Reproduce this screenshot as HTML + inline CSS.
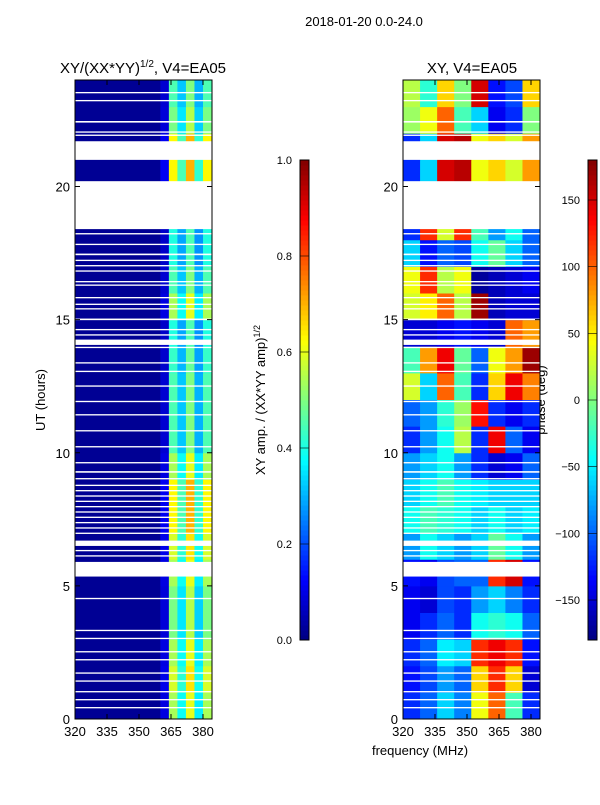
<!DOCTYPE html>
<html><head><meta charset="utf-8"><style>
body{margin:0;background:#fff;font-family:"Liberation Sans",sans-serif}
svg text{font-family:"Liberation Sans",sans-serif;fill:#000}
</style></head><body>
<svg id="s" width="600" height="800" xmlns="http://www.w3.org/2000/svg">
<text x="364" y="26" font-size="13" text-anchor="middle">2018-01-20 0.0-24.0</text>
<text x="143" y="73" font-size="15" text-anchor="middle">XY/(XX*YY)<tspan font-size="10" dy="-6">1/2</tspan><tspan dy="6">, V4=EA05</tspan></text>
<text x="472" y="73" font-size="15" text-anchor="middle">XY, V4=EA05</text>
<text x="45" y="400" font-size="13" text-anchor="middle" transform="rotate(-90 45 400)">UT (hours)</text>
<text x="420" y="755" font-size="13" text-anchor="middle">frequency (MHz)</text>
<text x="265" y="400" font-size="13" text-anchor="middle" transform="rotate(-90 265 400)">XY amp. / (XX*YY amp)<tspan font-size="9" dy="-5">1/2</tspan></text>
<text x="545" y="400" font-size="13" text-anchor="middle" transform="rotate(-90 545 400)">phase (deg)</text>
<g id="g"></g>
</svg>
<script>
const hours=[0,1,2,3,4,5,6,7,8,9,10,11,12,13,14,15,16,17,18,19,20,21,22,23];
const ampFreqBins=[320,324,328,332,336,340,344,348,352,356,360,364,368,372,376,380];
const ampProfile=[0.02,0.02,0.02,0.02,0.02,0.02,0.02,0.02,0.02,0.02,0.08,0.45,0.32,0.5,0.3,0.45];
const ampRowScale=[1.2,1.3,1.2,1.1,1.1,1.2,1.3,1.4,1.4,1.2,1.0,1.0,1.0,0.95,0.9,1.2,1.0,0.9,0.9,1,1.4,1.4,1.1,1.0];
const phaseFreqBins=[320,328,336,344,352,360,368,376];
const phase=[
[-120,-100,-60,-90,40,100,-20,-120],
[-130,-110,-80,-100,60,120,60,-150],
[-120,-100,-50,-60,120,140,120,-130],
[-140,-120,-100,-120,-40,-30,-40,-100],
[-140,-150,-110,-120,-80,-60,-90,-120],
[-130,-140,-110,-100,-100,120,150,-130],
[-80,-40,-60,-80,-60,-10,-40,-80],
[-40,-20,-30,-40,-60,-40,-60,-50],
[-60,-40,-20,-40,-50,-60,-60,-60],
[-80,-60,-40,-80,-120,-150,-140,-100],
[-120,-80,-40,20,-120,140,-100,-140],
[-100,-80,-30,10,130,-120,-140,-120],
[30,-60,100,-20,-120,60,140,90],
[-20,80,140,-10,-100,40,80,170],
[-150,-150,-140,-130,-140,-150,100,80],
[30,50,100,20,170,-160,-150,-150],
[40,120,20,40,-170,-160,-150,-140],
[-60,-130,-100,-110,-40,-10,-60,-100],
[-120,120,30,120,-20,-80,-40,-100],
[0,0,0,0,0,0,0,0],
[-120,-60,150,160,40,60,30,80],
[-120,-60,150,160,40,60,30,80],
[10,40,100,-20,-60,-140,-120,0],
[20,-30,60,0,150,-130,-110,60]];
const gaps=[[18.4,20.2],[21.0,21.7],[14.05,14.25],[5.35,5.9],[6.5,6.7],
[23.5,23.55],[23.2,23.25],[22.4,22.46],[22.02,22.07],[21.9,21.95],
[18.2,18.25],[17.8,17.85],[17.42,17.48],[17.2,17.25],[17.0,17.05],[16.8,16.85],[16.4,16.45],[16.27,16.32],
[15.8,15.85],[15.55,15.6],[15.38,15.43],[14.98,15.04],[14.6,14.65],[14.4,14.45],[13.93,13.98],[13.35,13.4],[13.03,13.08],[12.48,12.53],
[11.9,11.95],[11.4,11.45],[10.8,10.85],[10.2,10.25],[9.6,9.65],[9.25,9.31],
[9.0,9.05],[8.75,8.8],[8.55,8.6],[8.35,8.4],[8.15,8.2],[7.95,8.0],[7.75,7.8],[7.55,7.6],[7.35,7.4],[7.15,7.2],[6.95,7.0],[6.3,6.35],[6.1,6.15],
[4.5,4.55],[3.3,3.35],[3.0,3.05],[2.5,2.55],[2.2,2.25],[1.7,1.75],[1.4,1.45],[1.0,1.05],[0.7,0.75],[0.4,0.45]];
const yTicks=[0,5,10,15,20];
const xTicks=[320,335,350,365,380];
const ampTicks=[0.0,0.2,0.4,0.6,0.8,1.0];
const phaseTicks=[-150,-100,-50,0,50,100,150];

const NS="http://www.w3.org/2000/svg",G=document.getElementById('g');
const Y0=719,Y1=80;
const yS=h=>Y0-(Y0-Y1)*h/24;
const xL=f=>75+(f-320)*32/15, xR=f=>403+(f-320)*32/15;
function jet(v){v=Math.max(0,Math.min(1,v));
 const c=x=>Math.round(255*Math.max(0,Math.min(1,1.5-Math.abs(4*v-x))));
 return `rgb(${c(3)},${c(2)},${c(1)})`;}
function mk(t,a){const e=document.createElementNS(NS,t);for(const k in a)e.setAttribute(k,a[k]);G.appendChild(e);return e;}
hours.forEach((h,i)=>{ampFreqBins.forEach((f,j)=>{
 const v=ampProfile[j]*(j>=10?ampRowScale[i]:1);
 const r=mk('rect',{x:xL(f),y:yS(h+1),width:xL(f+4)-xL(f)+0.5,height:yS(h)-yS(h+1)+0.5,fill:jet(v)});
 
 });
 phaseFreqBins.forEach((f,j)=>{
 const r=mk('rect',{x:xR(f),y:yS(h+1),width:xR(Math.min(f+8,384))-xR(f)+0.5,height:yS(h)-yS(h+1)+0.5,fill:jet((phase[i][j]+180)/360)});
 
 });
});
gaps.forEach(g=>{[xL,xR].forEach(fx=>{
 const r=mk('rect',{x:fx(320),y:yS(g[1]),width:fx(384)-fx(320),height:Math.max(1.2,yS(g[0])-yS(g[1])),fill:'#fff'});
 
 });});
[[75,'left-axes',xL],[403,'right-axes',xR]].forEach(([x0,n,fx])=>{
 const b=mk('rect',{x:x0,y:Y1,width:137,height:Y0-Y1,fill:'none',stroke:'#000','stroke-width':1});
 
 
 yTicks.forEach(t=>{const y=yS(t);
  mk('line',{x1:x0,x2:x0+5,y1:y,y2:y,stroke:'#000'});mk('line',{x1:x0+132,x2:x0+137,y1:y,y2:y,stroke:'#000'});
  const tx=mk('text',{x:x0-5,y:y+5,'font-size':13,'text-anchor':'end'});tx.textContent=t;
  
  });
 xTicks.forEach(t=>{const x=fx(t);
  mk('line',{x1:x,x2:x,y1:Y0,y2:Y0-5,stroke:'#000'});mk('line',{x1:x,x2:x,y1:Y1,y2:Y1+5,stroke:'#000'});
  const tx=mk('text',{x:x,y:Y0+17,'font-size':13,'text-anchor':'middle'});tx.textContent=t;
  
  });
});
[[300,'amp-colorbar',ampTicks,v=>v,t=>t.toFixed(1)],[588,'phase-colorbar',phaseTicks,v=>(v+180)/360,t=>String(t).replace('-','\u2212')]].forEach(([x0,n,ticks,norm,fmt])=>{
 for(let k=0;k<96;k++){const r=mk('rect',{x:x0,y:640-(k+1)*5,width:9,height:5.5,fill:jet((k+0.5)/96)});
  
  }
 const b=mk('rect',{x:x0,y:160,width:9,height:480,fill:'none',stroke:'#000'});
 
 
 ticks.forEach(t=>{const y=640-480*norm(t);
  mk('line',{x1:x0,x2:x0+9,y1:y,y2:y,stroke:'#000','stroke-width':0.6});
  const tx=mk('text',{x:x0-8,y:y+4,'font-size':11,'text-anchor':'end'});tx.textContent=fmt(t);
  
  });
});
</script>
</body></html>
